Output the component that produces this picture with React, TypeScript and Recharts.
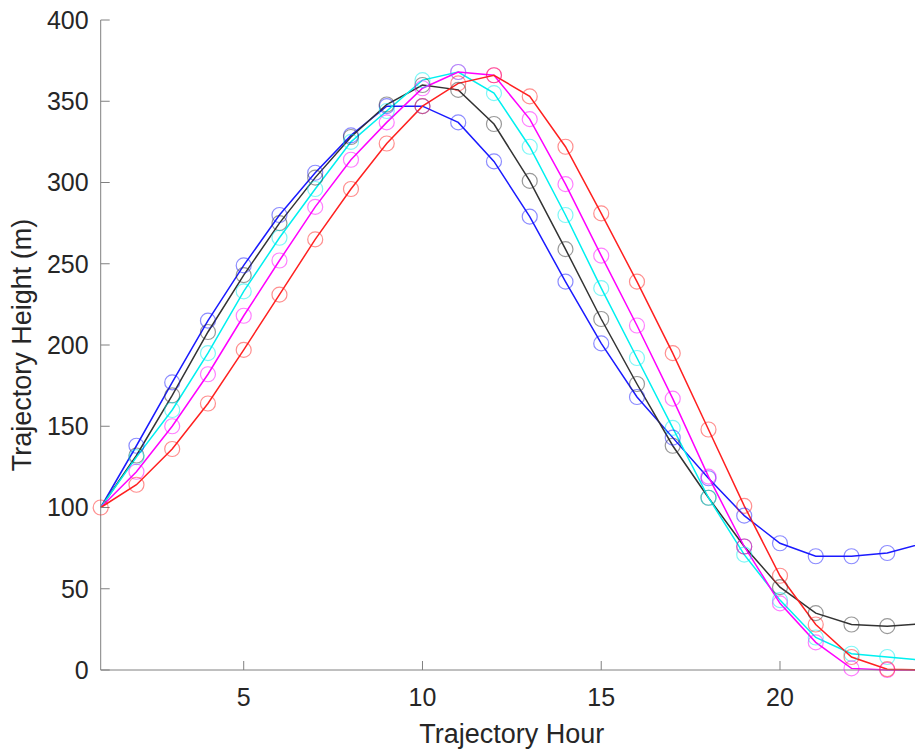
import React from "react";
import { LineChart, Line, XAxis, YAxis } from "recharts";

const hours = [1, 2, 3, 4, 5, 6, 7, 8, 9, 10, 11, 12, 13, 14, 15, 16, 17, 18, 19, 20, 21, 22, 23, 24];

const blueRun = [100, 138, 177, 215, 249, 280, 306, 329, 347, 347, 337, 313, 279, 239, 201, 168, 143, 118, 95, 78, 70, 70, 72, 78];
const blackRun = [100, 132, 169, 208, 243, 275, 303, 328, 348, 360, 357, 336, 301, 259, 216, 176, 138, 106, 76, 51, 35, 28, 27, 28.5];
const cyanRun = [100, 131, 160, 195, 233, 266, 296, 325, 344, 363, 368, 355, 322, 280, 235, 192, 149, 106, 71, 43, 20, 10, 8, 6];
const magentaRun = [100, 122, 150, 182, 218, 252, 285, 314, 337, 358, 368, 366, 339, 299, 255, 212, 167, 119, 76, 41, 17, 1, 0, 0];
const redRun = [100, 114, 136, 164, 197, 231, 265, 296, 324, 347, 361, 366, 353, 322, 281, 239, 195, 148, 101, 58, 28, 8, 0.5, 0];

const xTicks = [5, 10, 15, 20];
const yTicks = [0, 50, 100, 150, 200, 250, 300, 350, 400];

const data = hours.map((h, i) => ({
  hour: h,
  blue: blueRun[i],
  black: blackRun[i],
  cyan: cyanRun[i],
  magenta: magentaRun[i],
  red: redRun[i],
}));

const series = [
  { key: "blue", color: "#1a1aff" },
  { key: "black", color: "#333333" },
  { key: "cyan", color: "#00f0f0" },
  { key: "magenta", color: "#ff00ff" },
  { key: "red", color: "#ff2020" },
];

const FONT = "'Liberation Sans', Arial, Helvetica, sans-serif";
const AXIS = "#808080";
const TEXT = "#262626";

const XLabel = (props: any) => {
  const vb = props.viewBox;
  return (
    <text x={vb.x + vb.width / 2} y={743} textAnchor="middle" fontSize={27} fontFamily={FONT} fill={TEXT}>
      Trajectory Hour
    </text>
  );
};

const YLabel = (props: any) => {
  const vb = props.viewBox;
  const cy = vb.y + vb.height / 2;
  return (
    <text x={31} y={cy} transform={`rotate(-90, 31, ${cy})`} textAnchor="middle" fontSize={27} fontFamily={FONT} fill={TEXT}>
      Trajectory Height (m)
    </text>
  );
};

// open circle markers; the shared start point only shows the last (red) one
const makeDot = (key: string, color: string) => (p: any) => {
  if (p.index === 0 && key !== "red") return <g key={`${key}-${p.index}`} />;
  return (
    <circle
      key={`${key}-${p.index}`}
      cx={p.cx}
      cy={p.cy}
      r={7.5}
      stroke={color}
      strokeOpacity={0.5}
      strokeWidth={1.2}
      fill="none"
    />
  );
};

const App: React.FC = () => {
  return (
    <div style={{ position: "fixed", left: 0, top: 0, width: 915, height: 752, overflow: "hidden", background: "#fff" }}>
      <LineChart width={940} height={752} data={data} margin={{ top: 20, right: 17, bottom: 0, left: 0 }}>
        <XAxis
          dataKey="hour"
          type="number"
          domain={[1, 24]}
          ticks={xTicks}
          height={82}
          stroke={AXIS}
          tickSize={-9}
          tickMargin={27}
          tick={{ fill: TEXT, fontSize: 25, fontFamily: FONT }}
          label={XLabel}
        />
        <XAxis
          xAxisId="top"
          orientation="top"
          dataKey="hour"
          type="number"
          domain={[1, 24]}
          ticks={xTicks}
          height={0}
          stroke={AXIS}
          tickSize={-9}
          tickFormatter={() => ""}
        />
        <YAxis
          type="number"
          domain={[0, 400]}
          ticks={yTicks}
          width={100.7}
          stroke={AXIS}
          tickSize={-9}
          tickMargin={21}
          tick={{ fill: TEXT, fontSize: 25, fontFamily: FONT }}
          label={YLabel}
        />
        <YAxis
          yAxisId="right"
          orientation="right"
          type="number"
          domain={[0, 400]}
          ticks={yTicks}
          width={0}
          stroke={AXIS}
          tickSize={-9}
          tickFormatter={() => ""}
        />
        {series.map((s) => (
          <Line
            key={s.key}
            dataKey={s.key}
            type="linear"
            stroke={s.color}
            strokeWidth={1.5}
            dot={makeDot(s.key, s.color)}
            isAnimationActive={false}
          />
        ))}
      </LineChart>
    </div>
  );
};

export default App;
